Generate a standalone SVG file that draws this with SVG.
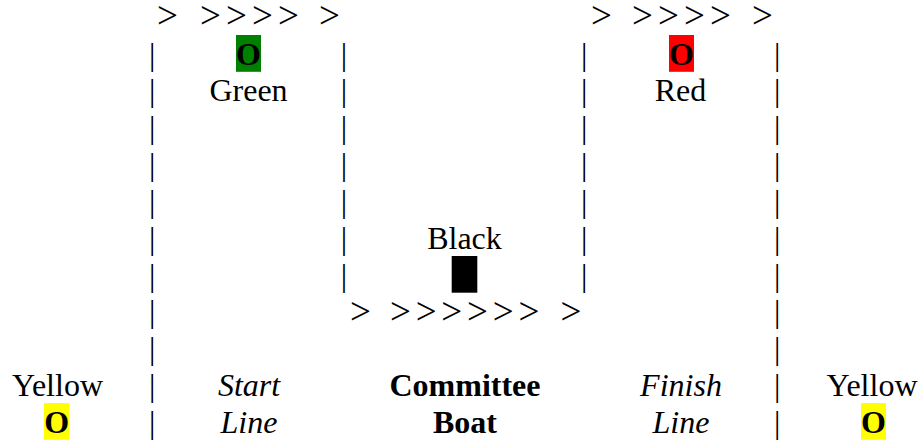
<svg xmlns="http://www.w3.org/2000/svg" width="924" height="441" viewBox="0 0 924 441">
<style>
text{font-family:"Liberation Serif","Times New Roman",serif;font-size:32px;fill:#000}
.m{text-anchor:middle}
.b{font-weight:bold}
.i{font-style:italic}
.a{font-size:37px}
</style>
<rect width="924" height="441" fill="#fff"/>
<g id="connectors">
  <text class="a" x="157 200 226 252 278 319" y="28.3">&gt;&gt;&gt;&gt;&gt;&gt;</text>
  <text class="a" x="591 632 658 684 710 752" y="28.3">&gt;&gt;&gt;&gt;&gt;&gt;</text>
  <text class="a" x="350 390 415.7 441.3 467 492.7 518.4 560.5" y="324">&gt;&gt;&gt;&gt;&gt;&gt;&gt;&gt;</text>
  <g class="m">
    <text x="152.3" y="64.5">|</text><text x="152.3" y="101.35">|</text><text x="152.3" y="138.2">|</text><text x="152.3" y="175.05">|</text><text x="152.3" y="211.9">|</text><text x="152.3" y="248.75">|</text><text x="152.3" y="285.6">|</text><text x="152.3" y="322.45">|</text><text x="152.3" y="359.3">|</text><text x="152.3" y="396.15">|</text><text x="152.3" y="433">|</text>
    <text x="344" y="64.5">|</text><text x="344" y="101.35">|</text><text x="344" y="138.2">|</text><text x="344" y="175.05">|</text><text x="344" y="211.9">|</text><text x="344" y="248.75">|</text><text x="344" y="285.6">|</text>
    <text x="584.3" y="64.5">|</text><text x="584.3" y="101.35">|</text><text x="584.3" y="138.2">|</text><text x="584.3" y="175.05">|</text><text x="584.3" y="211.9">|</text><text x="584.3" y="248.75">|</text><text x="584.3" y="285.6">|</text>
    <text x="777.3" y="64.5">|</text><text x="777.3" y="101.35">|</text><text x="777.3" y="138.2">|</text><text x="777.3" y="175.05">|</text><text x="777.3" y="211.9">|</text><text x="777.3" y="248.75">|</text><text x="777.3" y="285.6">|</text><text x="777.3" y="322.45">|</text><text x="777.3" y="359.3">|</text><text x="777.3" y="396.15">|</text><text x="777.3" y="433">|</text>
  </g>
</g>
<g id="green-mark">
  <rect x="236" y="35" width="25" height="36.8" fill="#008000"/>
  <text class="m b" x="248.5" y="64.5">O</text>
  <text class="m" x="248.5" y="101.35">Green</text>
</g>
<g id="red-mark">
  <rect x="669" y="35" width="25" height="36.8" fill="#ff0000"/>
  <text class="m b" x="681.5" y="64.5">O</text>
  <text class="m" x="680.5" y="101.35">Red</text>
</g>
<g id="black-boat">
  <text class="m" x="464.5" y="248.75">Black</text>
  <rect x="451.7" y="256" width="25.6" height="36.7" fill="#000"/>
</g>
<g id="yellow-left">
  <text class="m" x="57.5" y="396.15">Yellow</text>
  <rect x="44" y="403" width="25.3" height="36.8" fill="#ffff00"/>
  <text class="m b" x="56.7" y="433">O</text>
</g>
<g id="start-line">
  <text class="m i" x="249" y="396.15">Start</text>
  <text class="m i" x="249" y="433">Line</text>
</g>
<g id="committee-boat">
  <text class="m b" x="465" y="396.15">Committee</text>
  <text class="m b" x="465" y="433">Boat</text>
</g>
<g id="finish-line">
  <text class="m i" x="681" y="396.15">Finish</text>
  <text class="m i" x="681" y="433">Line</text>
</g>
<g id="yellow-right">
  <text class="m" x="872" y="396.15">Yellow</text>
  <rect x="861" y="403" width="25" height="36.8" fill="#ffff00"/>
  <text class="m b" x="873.5" y="433">O</text>
</g>
</svg>
